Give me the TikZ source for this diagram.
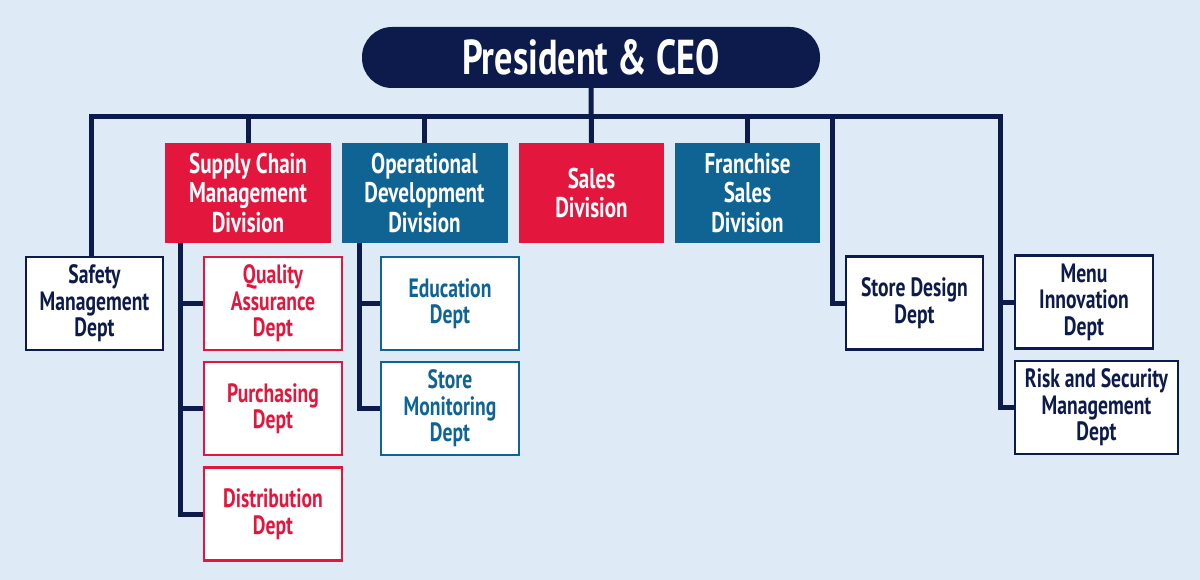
\documentclass[tikz,border=0pt]{standalone}
\usepackage{fontspec}
\setmainfont{PT Sans}[FakeStretch=0.74]
\usetikzlibrary{positioning}
\definecolor{navy}{HTML}{0C1B4B}
\definecolor{chartred}{HTML}{E3173E}
\definecolor{chartblue}{HTML}{0F6494}
\definecolor{paleblue}{HTML}{DEEBF7}

\begin{document}
\begin{tikzpicture}[
            x = 1pt, y = -1pt, % pixel grid, top down
            link/.style = {draw = navy, line width = 5pt},
            division/.style = {
                fill = #1,
                text = white,
                align = center,
                inner sep = 0pt,
                minimum width = 166pt,
                minimum height = 100pt,
                font = \fontsize{28.5}{29.5}\selectfont\bfseries
            },
            dept/.style = {
                draw = #1,
                fill = white,
                text = #1,
                line width = 2.5pt,
                align = center,
                inner sep = 0pt,
                minimum width = 137pt,
                minimum height = 93pt,
                font = \fontsize{26.5}{26.5}\selectfont\bfseries
            }
        ]

        \fill[paleblue] (0,0) rectangle (1200,580);
        \useasboundingbox (0,0) rectangle (1200,580);

        % top
        \node[fill = navy, text = white, rounded corners = 30pt,
              minimum width = 458pt, minimum height = 61pt,
              font = \fontsize{49}{49}\selectfont\bfseries] (ceo) at (591,57.5) {President \& CEO};

        % divisions
        \node[division = chartred] (scm) at (248,193) {Supply Chain\\Management\\Division};
        \node[division = chartblue] (opdev) at (424.5,193) {Operational\\Development\\Division};
        \node[division = chartred, minimum width = 145pt] (sales) at (591.5,193) {Sales\\Division};
        \node[division = chartblue, minimum width = 145pt] (franchise) at (747.5,193) {Franchise\\Sales\\Division};

        % departments
        \node[dept = navy] (safety) at (94.5,303.5) {Safety\\Management\\Dept};
        \node[dept = chartred, minimum width = 138pt] (quality) at (273,303.5) {Quality\\Assurance\\Dept};
        \node[dept = chartred, minimum width = 138pt] (purchasing) at (273,408.5) {Purchasing\\Dept};
        \node[dept = chartred, minimum width = 138pt] (distribution) at (273,514) {Distribution\\Dept};
        \node[dept = chartblue, minimum width = 138pt] (education) at (450,303.5) {Education\\Dept};
        \node[dept = chartblue, minimum width = 138pt] (monitoring) at (450,408.5) {Store\\Monitoring\\Dept};
        \node[dept = navy] (design) at (914.5,303) {Store Design\\Dept};
        \node[dept = navy, minimum width = 138pt] (menu) at (1084,302) {Menu\\Innovation\\Dept};
        \node[dept = navy, minimum width = 163pt] (risk) at (1096.5,407.5) {Risk and Security\\Management\\Dept};

        % bus
        \coordinate (busL) at (91,117);
        \coordinate (busR) at (1000,117);
        \coordinate (busD) at (832,117);
        \coordinate (scmL) at (180,243);
        \coordinate (opdevL) at (359,243);

        \draw[link] (ceo.south) -- (sales.north);
        \draw[link] (busL |- safety.north) -- (busL) -- (busR) |- (risk.west);
        \draw[link] (busR) |- (menu.west);
        \draw[link] (busD) |- (design.west);
        \draw[link] (scm.north) -- (scm.north |- busL);
        \draw[link] (opdev.north) -- (opdev.north |- busL);
        \draw[link] (franchise.north) -- (franchise.north |- busL);

        % sub departments
        \draw[link] (scmL) |- (distribution.west);
        \draw[link] (scmL) |- (quality.west);
        \draw[link] (scmL) |- (purchasing.west);
        \draw[link] (opdevL) |- (monitoring.west);
        \draw[link] (opdevL) |- (education.west);

\end{tikzpicture}
\end{document}
